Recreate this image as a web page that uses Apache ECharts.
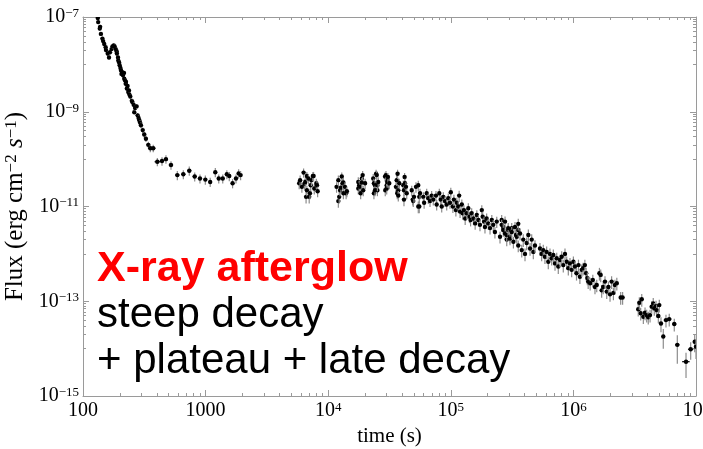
<!DOCTYPE html>
<html><head><meta charset="utf-8">
<script src="https://cdn.jsdelivr.net/npm/echarts@6/dist/echarts.min.js"></script>
<style>html,body{margin:0;padding:0;background:#fff}#c{width:703px;height:449px}</style>
</head><body><div id="c"></div>
<script>
// [time (s), flux (erg cm^-2 s^-1), relative flux error, relative time half-width]
const steepDecay = [
 [132,9.5e-8,0.10,0.02],[133,7.8e-8,0.10,0.02],[137,5.7e-8,0.10,0.02],[138,6.2e-8,0.10,0.02],
 [140,4.4e-8,0.10,0.02],[144,3.5e-8,0.10,0.02],[146,3.1e-8,0.10,0.02],[149,2.7e-8,0.10,0.02],
 [153,2.3e-8,0.10,0.02],[154,2.0e-8,0.10,0.02],[159,1.7e-8,0.10,0.02],[163,1.4e-8,0.10,0.02],
 [166,1.8e-8,0.10,0.02],[171,2.1e-8,0.10,0.02],[174,2.4e-8,0.10,0.02],[178,2.5e-8,0.10,0.02],
 [181,2.4e-8,0.10,0.02],[185,2.1e-8,0.10,0.02],[188,1.9e-8,0.10,0.02],[189,1.7e-8,0.10,0.02],
 [193,1.4e-8,0.10,0.02],[194,1.2e-8,0.10,0.02],[197,1.1e-8,0.10,0.02],[199,9.6e-9,0.10,0.02],
 [202,8.4e-9,0.10,0.02],[204,7.5e-9,0.10,0.02],[206,6.3e-9,0.10,0.02],[208,6.9e-9,0.10,0.02],
 [212,5.9e-9,0.10,0.02],[216,6.6e-9,0.10,0.02],[217,5.0e-9,0.10,0.02],[220,4.6e-9,0.10,0.02],
 [223,3.9e-9,0.10,0.02],[224,4.3e-9,0.10,0.02],[228,3.1e-9,0.10,0.02],[231,3.5e-9,0.10,0.02],
 [234,2.6e-9,0.10,0.02],[237,2.8e-9,0.10,0.02],[239,2.3e-9,0.10,0.02],[243,2.1e-9,0.10,0.02],
 [250,1.7e-9,0.12,0.02],[253,1.6e-9,0.12,0.02],[259,1.4e-9,0.12,0.02],[262,9.8e-10,0.12,0.02],
 [266,1.2e-9,0.12,0.02],[274,1.3e-9,0.12,0.02],[279,8.4e-10,0.12,0.02],[284,7.4e-10,0.12,0.02],
 [288,6.6e-10,0.12,0.02],[292,5.9e-10,0.14,0.02],[297,5.2e-10,0.14,0.02],[307,4.1e-10,0.14,0.03],
 [316,3.3e-10,0.15,0.03],[326,2.7e-10,0.15,0.03],[341,2.0e-10,0.16,0.03],[354,1.7e-10,0.18,0.04],
 [374,1.7e-10,0.18,0.04]
];
const plateauEarly = [
 [404,8.8e-11,0.20,0.05],[441,9.1e-11,0.20,0.04],[475,1.0e-10,0.20,0.04],[522,7.5e-11,0.20,0.04],
 [588,4.6e-11,0.22,0.04],[658,4.8e-11,0.22,0.04],[736,5.7e-11,0.22,0.04],[815,4.3e-11,0.22,0.04],
 [900,3.9e-11,0.22,0.04],[995,3.7e-11,0.22,0.03],[1090,3.3e-11,0.22,0.03],[1200,5.3e-11,0.22,0.03],
 [1280,3.9e-11,0.22,0.03],[1380,3.9e-11,0.22,0.03],[1490,4.8e-11,0.22,0.03],[1560,4.4e-11,0.22,0.03],
 [1660,3.1e-11,0.22,0.03],[1770,3.9e-11,0.22,0.02],[1860,5.0e-11,0.22,0.02],[1930,4.6e-11,0.22,0.02]
];
const orbitWindows = [
 [5800,3.1e-11,0.25,0.015],[5900,3.6e-11,0.25,0.015],[6100,2.6e-11,0.25,0.015],[6300,5.2e-11,0.22,0.015],
 [6400,3.0e-11,0.25,0.015],[6500,3.3e-11,0.25,0.015],[6600,1.6e-11,0.28,0.015],[6700,2.2e-11,0.25,0.015],
 [6700,4.4e-11,0.22,0.015],[6900,3.9e-11,0.25,0.015],[7000,1.6e-11,0.28,0.015],[7100,1.9e-11,0.25,0.015],
 [7200,2.8e-11,0.25,0.015],[7300,3.6e-11,0.25,0.015],[7500,4.4e-11,0.22,0.015],[7600,4.4e-11,0.22,0.015],
 [7700,2.4e-11,0.25,0.015],[8000,3.1e-11,0.25,0.015],[8100,2.8e-11,0.25,0.015],[8200,2.1e-11,0.25,0.015],
 [11700,2.6e-11,0.25,0.015],[12100,3.6e-11,0.25,0.015],[12100,1.3e-11,0.28,0.015],[12300,1.6e-11,0.28,0.015],
 [12500,2.2e-11,0.25,0.015],[12700,2.5e-11,0.25,0.015],[12900,4.3e-11,0.22,0.015],[13100,3.1e-11,0.25,0.015],
 [13300,1.9e-11,0.25,0.015],[13300,3.2e-11,0.25,0.015],[13700,2.6e-11,0.25,0.015],[14000,1.9e-11,0.25,0.015],
 [14200,2.1e-11,0.25,0.015],
 [17600,3.3e-11,0.25,0.015],[17600,2.4e-11,0.25,0.015],[17900,2.8e-11,0.25,0.015],[18200,2.6e-11,0.25,0.015],
 [18400,1.9e-11,0.25,0.015],[18800,3.9e-11,0.22,0.015],[18800,3.2e-11,0.25,0.015],[19100,4.6e-11,0.22,0.015],
 [19300,2.2e-11,0.25,0.015],[20000,3.1e-11,0.25,0.015],
 [23300,3.9e-11,0.25,0.015],[23600,1.9e-11,0.25,0.015],[23600,3.1e-11,0.25,0.015],[24100,2.8e-11,0.25,0.015],
 [24100,2.2e-11,0.25,0.015],[24600,4.9e-11,0.22,0.015],[24900,4.6e-11,0.22,0.015],[25200,2.2e-11,0.25,0.015],
 [25200,2.8e-11,0.25,0.015],[25600,3.3e-11,0.25,0.015],
 [29100,4.3e-11,0.22,0.015],[29200,2.2e-11,0.25,0.015],[29600,4.6e-11,0.22,0.015],[30000,2.8e-11,0.25,0.015],
 [30000,2.4e-11,0.25,0.015],[30300,3.3e-11,0.25,0.015],[30600,3.6e-11,0.25,0.015],[30700,4.2e-11,0.22,0.015],
 [31500,3.1e-11,0.25,0.015],
 [35700,2.6e-11,0.25,0.015],[36200,3.6e-11,0.25,0.015],[36600,1.9e-11,0.25,0.015],[36800,4.9e-11,0.22,0.015],
 [37300,2.2e-11,0.25,0.015],[37300,1.7e-11,0.25,0.015],[38000,3.1e-11,0.25,0.015],
 [41000,2.8e-11,0.25,0.015],[41500,2.2e-11,0.25,0.015],[41500,1.4e-11,0.28,0.015],[42000,4.2e-11,0.22,0.015],
 [42300,3.1e-11,0.25,0.015],[43100,2.6e-11,0.25,0.015],[43700,1.9e-11,0.25,0.015]
];
const normalDecay = [
 [48000,2.2e-11,0.25,0.015],[48900,1.4e-11,0.25,0.015],[49400,1.3e-11,0.25,0.015],[50100,1.6e-11,0.25,0.015],
 [52000,2.6e-11,0.25,0.015],[54300,2.8e-11,0.25,0.015],[54300,1.0e-11,0.28,0.015],[55300,1.6e-11,0.25,0.015],
 [55300,1.0e-11,0.28,0.015],[56100,1.9e-11,0.25,0.015],[59700,1.6e-11,0.25,0.015],[60600,1.2e-11,0.25,0.015],
 [63600,1.9e-11,0.25,0.015],[65500,1.5e-11,0.25,0.015],[67700,1.3e-11,0.25,0.015],[69800,1.7e-11,0.25,0.015],
 [72000,1.4e-11,0.25,0.015],[75700,1.7e-11,0.25,0.015],[76700,1.1e-11,0.25,0.015],[80600,1.9e-11,0.25,0.015],
 [82700,1.4e-11,0.25,0.015],[84300,1.0e-11,0.25,0.015],[86900,1.6e-11,0.25,0.015],[89700,1.3e-11,0.25,0.015],
 [92600,1.1e-11,0.25,0.015],[95400,1.5e-11,0.25,0.015],[98500,1.2e-11,0.25,0.015],[1.00e5,2.0e-11,0.25,0.015],
 [1.04e5,1.0e-11,0.27,0.02],[1.06e5,1.4e-11,0.27,0.02],[1.10e5,8.4e-12,0.27,0.02],[1.12e5,1.2e-11,0.27,0.02],
 [1.15e5,1.0e-11,0.27,0.02],[1.17e5,1.7e-11,0.27,0.02],[1.19e5,7.8e-12,0.27,0.02],[1.23e5,1.1e-11,0.27,0.02],
 [1.25e5,7.2e-12,0.27,0.02],[1.28e5,8.4e-12,0.27,0.02],[1.31e5,5.6e-12,0.27,0.02],[1.35e5,7.2e-12,0.27,0.02],
 [1.39e5,9.2e-12,0.27,0.02],[1.42e5,6.1e-12,0.27,0.02],[1.45e5,5.2e-12,0.27,0.02],[1.48e5,7.2e-12,0.27,0.02],
 [1.53e5,5.6e-12,0.27,0.02],[1.58e5,4.4e-12,0.27,0.02],[1.63e5,6.6e-12,0.27,0.02],[1.68e5,5.2e-12,0.27,0.02],
 [1.73e5,4.1e-12,0.27,0.02],[1.79e5,8.4e-12,0.27,0.02],[1.82e5,6.1e-12,0.27,0.02],[1.87e5,4.8e-12,0.27,0.02],
 [1.90e5,3.7e-12,0.27,0.02],[1.96e5,5.6e-12,0.27,0.02],[2.02e5,4.4e-12,0.27,0.02],[2.09e5,3.5e-12,0.27,0.02],
 [2.16e5,5.2e-12,0.27,0.02],[2.22e5,4.1e-12,0.27,0.02],[2.29e5,2.9e-12,0.27,0.02],[2.37e5,4.8e-12,0.27,0.02],
 [2.52e5,2.3e-12,0.28,0.02],[2.60e5,5.2e-12,0.28,0.02],[2.60e5,4.1e-12,0.28,0.02],[2.68e5,3.7e-12,0.28,0.02],
 [2.68e5,3.2e-12,0.28,0.02],[2.77e5,2.7e-12,0.28,0.02],[2.77e5,4.8e-12,0.28,0.02],[2.86e5,2.0e-12,0.28,0.02],
 [2.86e5,2.5e-12,0.28,0.02],[2.94e5,3.2e-12,0.28,0.02],[2.94e5,3.5e-12,0.28,0.02],[3.04e5,2.3e-12,0.28,0.02],
 [3.04e5,2.1e-12,0.28,0.02],[3.14e5,3.5e-12,0.28,0.02],[3.14e5,2.9e-12,0.28,0.02],[3.24e5,1.8e-12,0.28,0.02],
 [3.34e5,3.7e-12,0.28,0.02],[3.40e5,2.5e-12,0.28,0.02],[3.45e5,2.3e-12,0.28,0.02],[3.55e5,3.2e-12,0.28,0.02],
 [3.55e5,4.3e-12,0.28,0.02],[3.55e5,1.5e-12,0.28,0.02],[3.67e5,2.7e-12,0.28,0.02],[3.79e5,1.2e-12,0.3,0.02],
 [3.90e5,2.0e-12,0.3,0.02],[4.03e5,1.0e-12,0.3,0.02],[4.16e5,1.7e-12,0.3,0.02],[4.29e5,2.5e-12,0.3,0.02],
 [4.43e5,1.3e-12,0.3,0.02],[4.57e5,2.0e-12,0.3,0.02],[4.71e5,1.1e-12,0.3,0.02],[4.86e5,1.5e-12,0.3,0.02],
 [5.34e5,1.3e-12,0.3,0.025],[5.51e5,1.0e-12,0.3,0.025],[5.68e5,1.2e-12,0.3,0.025],[5.86e5,8.7e-13,0.3,0.025],
 [6.05e5,1.1e-12,0.3,0.025],[6.24e5,6.8e-13,0.3,0.025],[6.44e5,1.0e-12,0.3,0.025],[6.65e5,8.1e-13,0.3,0.025],
 [6.86e5,9.5e-13,0.3,0.025],[7.08e5,6.3e-13,0.3,0.025],[7.31e5,8.1e-13,0.3,0.025],[7.53e5,5.4e-13,0.3,0.025],
 [7.78e5,7.4e-13,0.3,0.025],[8.03e5,8.7e-13,0.3,0.025],[8.27e5,5.8e-13,0.3,0.025],[8.54e5,1.0e-12,0.3,0.025],
 [8.82e5,6.8e-13,0.3,0.025],[9.09e5,5.0e-13,0.3,0.025],[9.38e5,6.3e-13,0.3,0.025],[9.68e5,4.6e-13,0.3,0.025],
 [1.00e6,6.8e-13,0.3,0.025],[1.03e6,5.4e-13,0.3,0.025],[1.06e6,3.9e-13,0.3,0.025],[1.10e6,5.8e-13,0.3,0.025],
 [1.13e6,3.3e-13,0.3,0.025],[1.17e6,4.6e-13,0.3,0.025],[1.20e6,5.0e-13,0.3,0.025],[1.24e6,5.8e-13,0.3,0.025],
 [1.27e6,3.9e-13,0.3,0.025],[1.30e6,3.1e-13,0.3,0.025],[1.32e6,2.6e-13,0.3,0.025],[1.37e6,2.4e-13,0.3,0.025],
 [1.44e6,2.8e-13,0.3,0.025],[1.50e6,2.0e-13,0.3,0.025],[1.55e6,2.2e-13,0.3,0.025],[1.63e6,3.9e-13,0.3,0.025],
 [1.67e6,3.6e-13,0.3,0.025],[1.70e6,1.7e-13,0.3,0.025],[1.75e6,2.0e-13,0.3,0.025],[1.81e6,2.6e-13,0.3,0.025],
 [1.87e6,1.6e-13,0.3,0.025],[1.93e6,2.0e-13,0.3,0.025],[1.99e6,1.4e-13,0.3,0.025],[2.05e6,2.6e-13,0.3,0.025],
 [2.12e6,1.5e-13,0.3,0.025],[2.18e6,2.2e-13,0.3,0.025],[2.26e6,2.4e-13,0.3,0.025],[2.43e6,1.2e-13,0.3,0.03],
 [2.52e6,1.2e-13,0.3,0.03]
];
const lateTail = [
 [3.38e6,6.8e-14,0.3,0.03],[3.45e6,9.3e-14,0.3,0.03],[3.54e6,5.6e-14,0.3,0.03],[3.61e6,1.1e-13,0.3,0.03],
 [3.72e6,4.7e-14,0.3,0.03],[3.84e6,5.7e-14,0.3,0.03],[3.96e6,5.1e-14,0.3,0.03],[4.08e6,4.6e-14,0.3,0.03],
 [4.22e6,5.1e-14,0.3,0.03],[4.35e6,7.7e-14,0.3,0.03],[4.48e6,9.0e-14,0.3,0.03],[4.57e6,7.1e-14,0.3,0.03],
 [4.72e6,7.9e-14,0.3,0.03],[4.78e6,6.5e-14,0.3,0.03],[4.93e6,4.9e-14,0.3,0.03],[5.02e6,8.3e-14,0.3,0.03],
 [5.18e6,3.4e-14,0.35,0.03],[5.41e6,1.8e-14,0.45,0.03],[5.69e6,4.0e-14,0.3,0.04],[6.05e6,4.2e-14,0.3,0.04],
 [6.65e6,3.3e-14,0.3,0.04],[7.04e6,1.2e-14,0.6,0.04],[8.29e6,5.3e-15,0.55,0.07],[9.05e6,9.7e-15,0.4,0.05],
 [9.76e6,1.4e-14,0.4,0.03],[1.00e7,1.1e-14,0.45,0.03]
];
const xTicks = [100, 1000, 1e4, 1e5, 1e6, 1e7];
const yTicks = [1e-15, 1e-13, 1e-11, 1e-9, 1e-7];
const xTitle = 'time (s)';
const yTitle = ['Flux (erg cm', '\u22122', ' ', 's', '\u22121', ')'];
const annotation = ['X-ray afterglow', 'steep decay', '+ plateau + late decay'];

const L = Math.log10;
function prep(arr) {
  return arr.map(([t, f, ef, et]) => [L(t), L(f), L(f * (1 - ef)), L(f * (1 + ef)), L(t * (1 - et)), L(t * (1 + et))]);
}
const points = [].concat(prep(steepDecay), prep(plateauEarly), prep(orbitWindows), prep(normalDecay), prep(lateTail));

const xMajor = xTicks.map(v => Math.round(L(v)));
const yMajor = yTicks.map(v => Math.round(L(v)));
const xMin = xMajor[0], xMax = xMajor[xMajor.length - 1];
const yMin = yMajor[0], yMax = yMajor[yMajor.length - 1];
const xMinor = [];
for (let d = xMin; d < xMax; d++) for (let k = 2; k <= 9; k++) xMinor.push(d + L(k));
const yMinor = [];
yMajor.forEach(m => { if (m - 1 >= yMin) for (let k = 1; k <= 9; k++) yMinor.push(m - 1 + L(k)); });

const SERIF = '"Liberation Serif", "Times New Roman", serif';
const SANS = '"Liberation Sans", Arial, Helvetica, sans-serif';
const FRAME = '#9a9a9a';
const rich = {
  b: { fontFamily: SERIF, fontSize: 20, color: '#000' },
  s: { fontFamily: SERIF, fontSize: 13, color: '#000', verticalAlign: 'top' }
};
function xFmt(v) {
  const e = Math.round(v);
  return e <= 3 ? '{b|' + Math.pow(10, e) + '}' : '{b|10}{s|' + e + '}';
}
function yFmt(v) {
  const e = Math.round(v);
  return '{b|10}{s|\u2212' + (-e) + '}';
}
function xAx(pos, major, withLabels) {
  const a = {
    type: 'value', position: pos, min: xMin, max: xMax, interval: 1,
    axisLine: { show: major, onZero: false, lineStyle: { color: FRAME, width: 1 } },
    axisTick: { show: true, inside: true, length: major ? 6 : 3, customValues: major ? xMajor : xMinor, lineStyle: { color: FRAME, width: 1 } },
    axisLabel: { show: false },
    splitLine: { show: false }
  };
  if (withLabels) {
    a.axisLabel = { show: true, customValues: xMajor, formatter: xFmt, rich, margin: 5, fontFamily: SERIF, fontSize: 20, color: '#000' };
    a.name = xTitle; a.nameLocation = 'middle'; a.nameGap = 30;
    a.nameTextStyle = { fontFamily: SERIF, fontSize: 21, color: '#000' };
  }
  return a;
}
function yAx(pos, major, withLabels) {
  const a = {
    type: 'value', position: pos, min: yMin, max: yMax, interval: 1,
    axisLine: { show: major, onZero: false, lineStyle: { color: FRAME, width: 1 } },
    axisTick: { show: true, inside: true, length: major ? 6 : 3, customValues: major ? yMajor : yMinor, lineStyle: { color: FRAME, width: 1 } },
    axisLabel: { show: false },
    splitLine: { show: false }
  };
  if (withLabels) {
    a.axisLabel = { show: true, customValues: yMajor, formatter: yFmt, rich, margin: 4, fontFamily: SERIF, fontSize: 20, color: '#000' };
    a.name = '{t|' + yTitle[0] + '}{s|' + yTitle[1] + '}{t|' + yTitle[2] + '}{i|' + yTitle[3] + '}{s|' + yTitle[4] + '}{t|' + yTitle[5] + '}';
    a.nameLocation = 'middle'; a.nameGap = 51; a.nameRotate = 90;
    a.nameTextStyle = {
      rich: {
        t: { fontFamily: SERIF, fontSize: 25, color: '#000' },
        i: { fontFamily: SERIF, fontSize: 25, fontStyle: 'italic', color: '#000' },
        s: { fontFamily: SERIF, fontSize: 17, color: '#000', verticalAlign: 'top' }
      }
    };
  }
  return a;
}

const chart = echarts.init(document.getElementById('c'), null, { renderer: 'canvas' });
chart.setOption({
  animation: false,
  backgroundColor: '#fff',
  grid: { left: 83, right: 7, top: 17, bottom: 53, containLabel: false, outerBoundsMode: 'none' },
  xAxis: [xAx('bottom', true, true), xAx('bottom', false, false), xAx('top', true, false), xAx('top', false, false)],
  yAxis: [yAx('left', true, true), yAx('left', false, false), yAx('right', true, false), yAx('right', false, false)],
  series: [{
    type: 'custom',
    xAxisIndex: 0, yAxisIndex: 0,
    clip: true,
    encode: { x: [0, 4, 5], y: [1, 2, 3] },
    data: points,
    renderItem: function (params, api) {
      const p = api.coord([api.value(0), api.value(1)]);
      const lo = api.coord([api.value(0), api.value(2)]);
      const hi = api.coord([api.value(0), api.value(3)]);
      const l = api.coord([api.value(4), api.value(1)]);
      const r = api.coord([api.value(5), api.value(1)]);
      return {
        type: 'group',
        children: [
          { type: 'line', shape: { x1: p[0], y1: lo[1], x2: p[0], y2: hi[1] }, style: { stroke: '#8c8c8c', lineWidth: 1.2 } },
          { type: 'line', shape: { x1: l[0], y1: p[1], x2: r[0], y2: p[1] }, style: { stroke: '#000', lineWidth: 1.2 } },
          { type: 'circle', shape: { cx: p[0], cy: p[1], r: 2.2 }, style: { fill: '#000' } }
        ]
      };
    }
  }],
  graphic: [
    { type: 'text', x: 97, y: 269, z: 100, style: { text: annotation[0], fill: '#ff0000', fontFamily: SANS, fontWeight: 'bold', fontSize: 43, verticalAlign: 'middle', align: 'left' } },
    { type: 'text', x: 97, y: 315.5, z: 100, style: { text: annotation[1], fill: '#000', fontFamily: SANS, fontSize: 42, verticalAlign: 'middle', align: 'left' } },
    { type: 'text', x: 97, y: 361.5, z: 100, style: { text: annotation[2], fill: '#000', fontFamily: SANS, fontSize: 42, verticalAlign: 'middle', align: 'left' } }
  ]
});
</script>
</body></html>
